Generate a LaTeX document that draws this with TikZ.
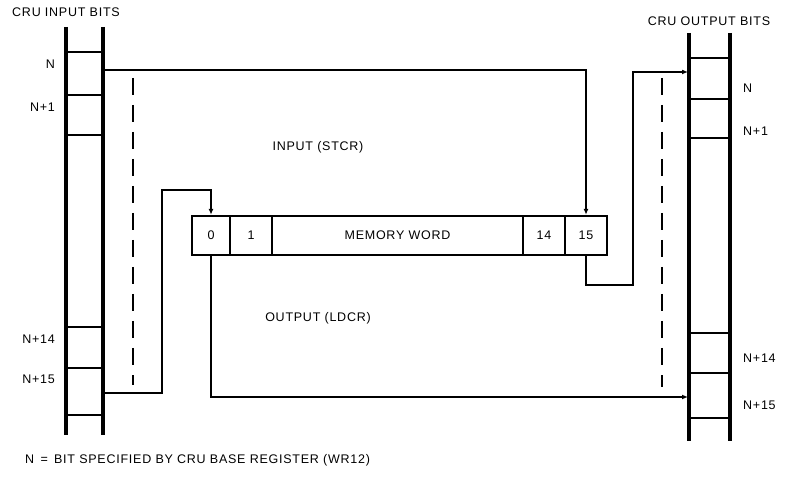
\documentclass[tikz,border=0pt]{standalone}
\usepackage{fontspec}
\setmainfont[LetterSpace=6]{Liberation Sans}
\usetikzlibrary{arrows.meta}
\begin{document}
\begin{tikzpicture}[x=1pt,y=-1pt,
  rail/.style={line width=3.2pt},
  rung/.style={line width=2.6pt},
  conn/.style={line width=1.6pt},
  arr/.style={conn,-{Latex[length=6pt,width=5pt]}},
  dashline/.style={line width=2.2pt,dash pattern=on 17pt off 10pt},
  cell/.style={draw,line width=2.4pt,minimum height=39pt,inner sep=0pt,anchor=center},
  lbl/.style={font=\fontsize{12.5}{14}\selectfont,inner sep=0pt}]
\useasboundingbox (0,0) rectangle (790,486);
% titles
\node[lbl,anchor=west] (tin) at (12,12) {CRU INPUT BITS};
\node[lbl] (tout) at (709,21) {CRU OUTPUT BITS};
% left ladder
\draw[rail] (66,27) -- (66,435);
\draw[rail] (103,27) -- (103,435);
\foreach \y in {52,95,135,327,368,415} \draw[rung] (66,\y) -- (103,\y);
\node[lbl,anchor=east] (lN) at (55,64) {N};
\node[lbl,anchor=east] (lN1) at (55,107) {N+1};
\node[lbl,anchor=east] (lN14) at (55,339) {N+14};
\node[lbl,anchor=east] (lN15) at (55,379) {N+15};
% right ladder
\draw[rail] (689,33) -- (689,441);
\draw[rail] (730,33) -- (730,441);
\foreach \y in {58,99,138,333,373,418} \draw[rung] (689,\y) -- (730,\y);
\node[lbl,anchor=west] (rN) at (743,88) {N};
\node[lbl,anchor=west] (rN1) at (743,131) {N+1};
\node[lbl,anchor=west] (rN14) at (743,358) {N+14};
\node[lbl,anchor=west] (rN15) at (743,405) {N+15};
% dashed
\draw[dashline] (133,78) -- (133,385);
\draw[dashline] (662,78) -- (662,387);
% memory word
\node[cell,minimum width=38pt] (m0) at (211,235.5) {\fontsize{12.5}{14}\selectfont 0};
\node[cell,minimum width=42pt] (m1) at (251,235.5) {\fontsize{12.5}{14}\selectfont 1};
\node[cell,minimum width=251pt] (mw) at (397.5,235.5) {\fontsize{12.5}{14}\selectfont MEMORY WORD};
\node[cell,minimum width=42pt] (m14) at (544,235.5) {\fontsize{12.5}{14}\selectfont 14};
\node[cell,minimum width=42pt] (m15) at (586,235.5) {\fontsize{12.5}{14}\selectfont 15};
% connection points
\coordinate (inN) at (104,70);
\coordinate (in15) at (104,393);
\coordinate (jl) at (162,190);
\coordinate (jr) at (633,285);
\coordinate (outN) at (688,72);
\coordinate (out15) at (688,397);
% connectors
\draw[arr] (inN) -| (m15.north);
\draw[arr] (in15) -| (jl) -| (m0.north);
\draw[arr] (m15.south) |- (jr) |- (outN);
\draw[arr] (m0.south) |- (out15);
% labels
\node[lbl] (lin) at (318,147) {INPUT (STCR)};
\node[lbl] (lout) at (318,318) {OUTPUT (LDCR)};
\node[lbl,anchor=west] (foot) at (25,460) {N \,=\, BIT SPECIFIED BY CRU BASE REGISTER (WR12)};
\end{tikzpicture}
\end{document}
